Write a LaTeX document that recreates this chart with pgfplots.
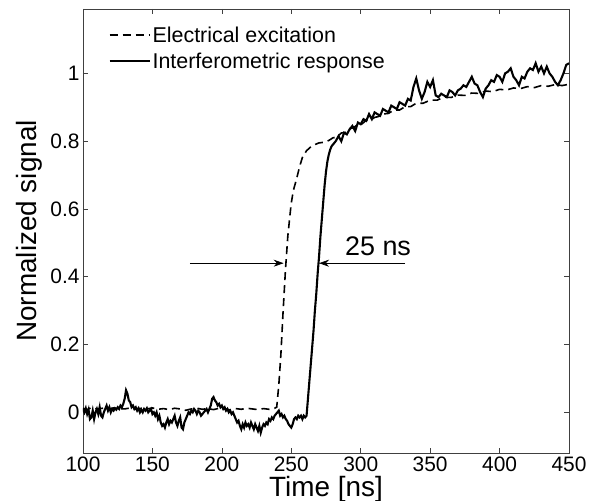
\documentclass[border=0pt]{standalone}
\usepackage{fontspec}
\setmainfont{Liberation Sans}
\usepackage{pgfplots}
\pgfplotsset{compat=1.18}
\usetikzlibrary{arrows.meta}

\pgfplotstableread{
t v
100 0.012
103 0.008
106 0.014
110 0.010
114 0.012
118 0.009
122 0.013
126 0.011
130 0.010
134 0.013
138 0.009
142 0.012
146 0.010
150 0.013
154 0.009
158 0.011
162 0.008
166 0.012
170 0.010
174 0.006
178 0.010
182 0.012
186 0.009
190 0.011
194 0.008
198 0.012
202 0.010
206 0.007
210 0.011
214 0.009
218 0.012
222 0.010
226 0.008
230 0.011
234 0.009
238 0.012
239.5 0.015
241 0.08
242.5 0.17
244 0.29
245.8 0.42
247.5 0.52
249.9 0.615
251.5 0.655
253.5 0.684
256 0.725
258 0.752
261 0.772
264 0.783
267 0.790
270 0.795
274 0.797
277 0.802
280 0.810
283 0.812
286 0.824
289 0.826
292 0.837
295 0.840
298 0.850
301 0.851
304 0.862
307 0.862
310 0.870
313 0.873
316 0.880
320 0.882
324 0.892
328 0.892
332 0.902
336 0.902
340 0.912
345 0.912
350 0.921
355 0.921
360 0.930
365 0.929
370 0.936
375 0.935
380 0.942
385 0.941
390 0.948
395 0.946
400 0.953
405 0.951
410 0.957
415 0.955
420 0.961
425 0.958
430 0.964
435 0.962
440 0.967
445 0.964
450 0.968
}\excitation

\pgfplotstableread{
t v
100 0.010
101 0.000
102 0.012
103 -0.005
104 0.008
105 -0.020
106 -0.015
107 0.005
108 -0.020
109 0.000
110 0.010
111 -0.005
112 0.015
113 -0.010
114 -0.015
115 0.000
116 0.010
117 0.020
118 0.005
119 0.015
120 0.000
121 0.010
122 0.005
123 0.012
124 0.008
125 0.015
126 0.010
127 0.020
128 0.015
129 0.025
130 0.040
131 0.065
132 0.055
133 0.035
134 0.030
135 0.015
136 0.020
137 0.010
138 0.015
139 0.005
140 0.012
141 0.000
142 0.008
143 0.000
144 0.010
145 0.005
146 0.012
147 0.000
148 0.005
149 0.010
150 -0.005
151 0.000
152 -0.010
153 0.000
154 -0.020
155 -0.010
156 -0.030
157 -0.040
158 -0.035
159 -0.045
160 -0.030
161 -0.020
162 -0.035
163 -0.025
164 -0.030
165 -0.020
166 -0.010
167 -0.030
168 -0.040
169 -0.025
170 -0.015
171 -0.045
172 -0.050
173 -0.030
174 -0.020
175 -0.010
176 0.000
177 -0.005
178 0.005
179 0.000
180 0.010
181 0.005
182 -0.005
183 0.005
184 0.000
185 -0.010
186 -0.005
187 0.000
188 0.005
189 0.010
190 0.000
191 0.010
192 0.020
193 0.040
194 0.045
195 0.035
196 0.030
197 0.020
198 0.025
199 0.015
200 0.020
201 0.010
202 0.015
203 0.005
204 0.010
205 0.000
206 0.005
207 -0.005
208 0.000
209 -0.010
210 -0.020
211 -0.030
212 -0.025
213 -0.040
214 -0.050
215 -0.035
216 -0.045
217 -0.030
218 -0.040
219 -0.035
220 -0.045
221 -0.030
222 -0.040
223 -0.050
224 -0.035
225 -0.045
226 -0.055
227 -0.040
228 -0.060
229 -0.045
230 -0.035
231 -0.040
232 -0.030
233 -0.035
234 -0.020
235 -0.025
236 -0.015
237 -0.020
238 -0.010
239 -0.005
240 0.000
241 0.005
242 -0.010
243 -0.005
244 -0.015
245 -0.010
246 -0.020
247 -0.025
248 -0.035
249 -0.040
250 -0.045
251 -0.035
252 -0.020
253 -0.015
254 -0.020
255 -0.010
256 -0.015
257 -0.010
258 -0.020
259 -0.010
260 -0.015
261 -0.010
262 0.040
263 0.090
264 0.140
265 0.190
266 0.240
267 0.300
268 0.350
269 0.410
270 0.460
271 0.520
272 0.570
273 0.620
274 0.670
275 0.710
276 0.740
277 0.760
278 0.775
279 0.785
280 0.790
282 0.800
284 0.815
286 0.800
288 0.825
290 0.820
292 0.835
294 0.845
296 0.830
298 0.855
300 0.850
302 0.865
304 0.860
306 0.880
308 0.865
310 0.885
312 0.880
314 0.875
316 0.895
318 0.890
320 0.885
322 0.905
324 0.900
326 0.895
328 0.915
330 0.910
332 0.905
334 0.925
336 0.920
338 0.960
340 0.985
342 0.950
344 0.925
346 0.945
348 0.975
350 0.960
352 0.980
354 0.935
356 0.930
358 0.940
360 0.935
362 0.930
364 0.950
366 0.945
368 0.935
370 0.950
372 0.955
374 0.965
376 0.960
378 0.975
380 0.990
382 0.970
384 0.965
386 0.945
388 0.930
390 0.955
392 0.965
394 0.980
396 0.975
398 0.995
400 0.990
402 0.975
404 1.000
406 1.005
408 1.015
410 0.990
412 0.980
414 0.965
416 0.990
418 0.985
420 1.005
422 1.015
424 1.010
426 1.030
428 1.005
430 1.020
432 1.000
434 1.020
436 1.000
438 0.990
440 0.975
442 0.965
444 0.980
446 1.000
448 1.025
450 1.030
}\response

\begin{document}
\begin{tikzpicture}
\begin{axis}[
  scale only axis,
  width=486bp,
  height=444bp,
  xmin=100, xmax=450,
  ymin=-0.12, ymax=1.19,
  xtick={100,150,...,450},
  ytick={0,0.2,0.4,0.6,0.8,1},
  tick pos=both,
  tick align=inside,
  major tick length=5bp,
  axis line style={black!75, line width=0.8bp},
  tick style={black!75, line width=0.6bp},
  /pgf/number format/assume math mode=true,
  tick label style={font=\fontsize{21}{23}\selectfont},
  label style={font=\fontsize{28}{31}\selectfont},
  xlabel={Time [ns]},
  ylabel={Normalized signal},
  xlabel style={at={(axis description cs:0.5,-0.082)}, anchor=center},
  ylabel style={at={(axis description cs:-0.11,0.5)}, anchor=center},
  legend style={at={(0.048,0.97)}, anchor=north west, draw=none, fill=none,
    font=\fontsize{21.5}{23}\selectfont, row sep=5bp, inner sep=2bp},
  legend cell align=left,
  legend image code/.code={\draw[#1] (0bp,0bp) -- (40bp,0bp);},
]
\addplot[black, line width=1.6bp, dash pattern=on 8bp off 5bp] table[x=t, y=v] {\excitation};
\addlegendentry{Electrical excitation}
\addplot[black, line width=2.1bp] table[x=t, y=v] {\response};
\addlegendentry{Interferometric response}

\draw[-{Stealth[length=10bp, width=7bp]}, line width=0.7bp] (axis cs:177,0.44) -- (axis cs:244.5,0.44);
\draw[-{Stealth[length=10bp, width=7bp]}, line width=0.7bp] (axis cs:332,0.44) -- (axis cs:270,0.44);
\node[font=\fontsize{27}{30}\selectfont] at (axis cs:312.5,0.49) {25 ns};
\end{axis}
\pgfresetboundingbox
\path[use as bounding box] ([xshift=-83bp, yshift=-48bp]current axis.south west) rectangle ([xshift=20bp, yshift=9bp]current axis.north east);
\end{tikzpicture}
\end{document}
